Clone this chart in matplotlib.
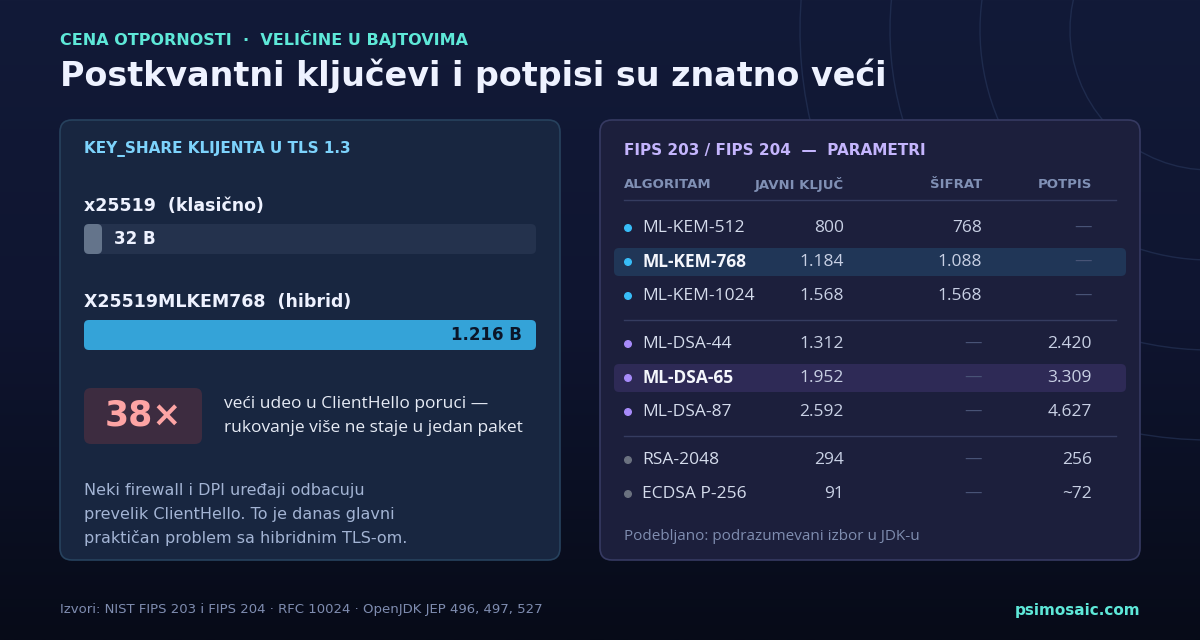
import numpy as np
import matplotlib.pyplot as plt
from matplotlib.patches import FancyBboxPatch, Circle, Arc

# data
bar_labels = ["x25519  (klasično)", "X25519MLKEM768  (hibrid)"]
bar_values = [32, 1216]
bar_texts = ["32 B", "1.216 B"]

algos = ["ML-KEM-512", "ML-KEM-768", "ML-KEM-1024", "ML-DSA-44", "ML-DSA-65", "ML-DSA-87", "RSA-2048", "ECDSA P-256"]
pub_key = ["800", "1.184", "1.568", "1.312", "1.952", "2.592", "294", "91"]
cipher = ["768", "1.088", "1.568", "—", "—", "—", "—", "—"]
signature = ["—", "—", "—", "2.420", "3.309", "4.627", "256", "~72"]
groups = [0, 0, 0, 1, 1, 1, 2, 2]
defaults = ["ML-KEM-768", "ML-DSA-65"]

H = "DejaVu Sans"
B = "Open Sans"

fig = plt.figure(figsize=(12, 6.4), dpi=100)
ax = fig.add_axes([0, 0, 1, 1])
ax.set_xlim(0, 1200); ax.set_ylim(640, 0); ax.axis("off")

grad = np.linspace(0, 1, 256)[:, None]
cmap = plt.matplotlib.colors.LinearSegmentedColormap.from_list("bg", ["#121a38", "#0f1530", "#070b18"])
ax.imshow(grad, extent=[0, 1200, 640, 0], cmap=cmap, aspect="auto", zorder=0)
for r in [140, 230, 320, 410]:
    ax.add_patch(Arc((1210, 30), 2 * r, 2 * r, theta1=90, theta2=260, color="#2a3a60", lw=1, alpha=0.55, zorder=1))

ax.text(60, 39, "CENA OTPORNOSTI  ·  VELIČINE U BAJTOVIMA", color="#5ee8d8", fontsize=11.5, fontweight="bold", family=H, va="center")
ax.text(60, 76, "Postkvantni ključevi i potpisi su znatno veći", color="#eef2ff", fontsize=24, fontweight="bold", family=H, va="center")

ax.add_patch(FancyBboxPatch((60, 120), 500, 440, boxstyle="round,pad=0,rounding_size=12", fc="#182640", ec="#27425e", lw=1.2, zorder=2))
ax.add_patch(FancyBboxPatch((600, 120), 540, 440, boxstyle="round,pad=0,rounding_size=12", fc="#1c1f3c", ec="#363a62", lw=1.2, zorder=2))

ax.text(84, 149, "KEY_SHARE KLIJENTA U TLS 1.3", color="#7dd3fc", fontsize=11, fontweight="bold", family=H, va="center", zorder=3)

# bars
bar_ys = [239, 335]
label_ys = [206, 302]
for lab, ly in zip(bar_labels, label_ys):
    ax.text(84, ly, lab, color="#eef2ff", fontsize=12.5, fontweight="bold", family=H, va="center", zorder=3)
bax = fig.add_axes([84 / 1200, 0, 452 / 1200, 1])
vmax = max(bar_values)
bax.set_xlim(0, vmax); bax.set_ylim(640, 0); bax.axis("off")
px = vmax / 452.0
colors = ["#64748b", "#34a3d8"]
for v, y, c, t in zip(bar_values, bar_ys, colors, bar_texts):
    bax.add_patch(FancyBboxPatch((0, y - 15), vmax, 30, boxstyle="round,pad=0,rounding_size=%f" % (5 * px),
                                 mutation_aspect=1 / px, fc="#24324d", ec="none", zorder=2))
    w = max(v, 18 * px)
    bax.add_patch(FancyBboxPatch((0, y - 15), w, 30, boxstyle="round,pad=0,rounding_size=%f" % (5 * px),
                                 mutation_aspect=1 / px, fc=c, ec="none", zorder=3))
    if v < 200:
        bax.text(w + 12 * px, y, t, color="#eef2ff", fontsize=12, fontweight="bold", family=H, va="center", zorder=4)
    else:
        bax.text(v - 14 * px, y, t, color="#0b1528", fontsize=12, fontweight="bold", family=H, va="center", ha="right", zorder=4)

ax.add_patch(FancyBboxPatch((84, 388), 118, 56, boxstyle="round,pad=0,rounding_size=7", fc="#3d2c40", ec="none", zorder=3))
ax.text(143, 416, "38×", color="#fda4a4", fontsize=25, fontweight="bold", family=H, ha="center", va="center", zorder=4)
ax.text(224, 404, "veći udeo u ClientHello poruci —", color="#e6ebf5", fontsize=12.5, family=B, va="center", zorder=4)
ax.text(224, 428, "rukovanje više ne staje u jedan paket", color="#e6ebf5", fontsize=12.5, family=B, va="center", zorder=4)
for i, line in enumerate(["Neki firewall i DPI uređaji odbacuju", "prevelik ClientHello. To je danas glavni", "praktičan problem sa hibridnim TLS-om."]):
    ax.text(84, 490 + i * 24, line, color="#a3b4d4", fontsize=11.5, family=H, va="center", zorder=4)

# table
ax.text(624, 150, "FIPS 203 / FIPS 204  —  PARAMETRI", color="#c4b5fd", fontsize=11, fontweight="bold", family=H, va="center", zorder=3)
hy = 184
ax.text(624, hy, "ALGORITAM", color="#8090b5", fontsize=9.5, fontweight="bold", family=H, va="center", zorder=3)
ax.text(844, hy, "JAVNI KLJUČ", color="#8090b5", fontsize=9.5, fontweight="bold", family=H, va="center", ha="right", zorder=3)
ax.text(982, hy, "ŠIFRAT", color="#8090b5", fontsize=9.5, fontweight="bold", family=H, va="center", ha="right", zorder=3)
ax.text(1092, hy, "POTPIS", color="#8090b5", fontsize=9.5, fontweight="bold", family=H, va="center", ha="right", zorder=3)
ax.plot([624, 1116], [200, 200], color="#353c60", lw=1, zorder=3)
dot_colors = ["#38bdf8", "#a78bfa", "#6b7280"]
y = 228
prev = 0
for a, p, c, s, g in zip(algos, pub_key, cipher, signature, groups):
    if g != prev:
        ax.plot([624, 1116], [y - 10, y - 10], color="#353c60", lw=1, zorder=3)
        y += 14
        prev = g
    bold = a in defaults
    if bold:
        ax.add_patch(FancyBboxPatch((614, y - 14), 512, 28, boxstyle="round,pad=0,rounding_size=5", fc="#203657" if g == 0 else "#2e2a56", ec="none", zorder=3))
    ax.add_patch(Circle((628, y), 3.3, color=dot_colors[g], zorder=4))
    ax.text(642, y, a, color="#f4f6fc" if bold else "#d5dcec", fontsize=12.5, fontweight="bold" if bold else "normal", family=B, va="center", zorder=4)
    for val, x in [(p, 844), (c, 982), (s, 1092)]:
        ax.text(x, y, val, color="#4a5578" if val == "—" else "#c8d0e4", fontsize=12.5, family=B, va="center", ha="right", zorder=4)
    y += 34

ax.text(624, 536, "Podebljano: podrazumevani izbor u JDK-u", color="#7f8db0", fontsize=11, family=B, va="center", zorder=4)

ax.text(60, 609, "Izvori: NIST FIPS 203 i FIPS 204 · RFC 10024 · OpenJDK JEP 496, 497, 527", color="#7f8db0", fontsize=9.5, family=H, va="center")
ax.text(1140, 610, "psimosaic.com", color="#5ee8d8", fontsize=11, fontweight="bold", family=H, va="center", ha="right")

fig.savefig("out.png", dpi=100, facecolor="#0c1228")
